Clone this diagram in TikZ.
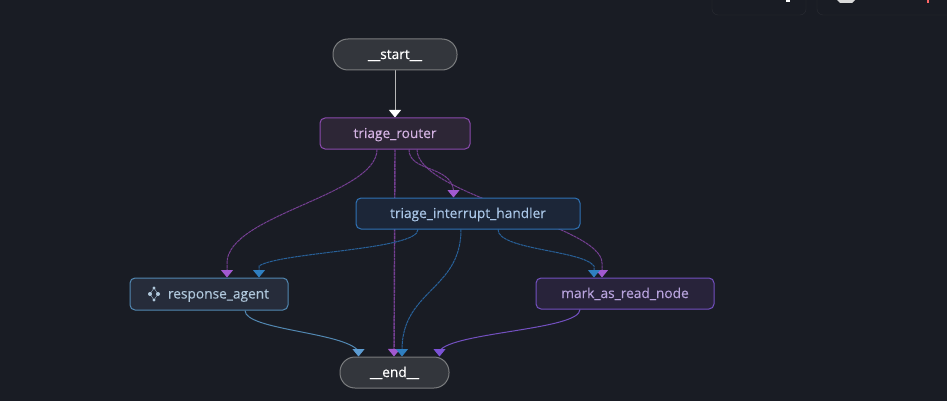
\documentclass[tikz,border=0pt]{standalone}
\usepackage{fontspec}
\setmainfont{Open Sans}[FakeBold=0.12]
\usetikzlibrary{arrows.meta}
\pgfdeclarelayer{backdrop}
\pgfdeclarelayer{edges}
\pgfsetlayers{backdrop,edges,main}

\definecolor{pagebg}{HTML}{191C24}
\definecolor{capfill}{HTML}{33363C}
\definecolor{capline}{HTML}{7A7C7E}
\definecolor{routerfill}{HTML}{2D2636}
\definecolor{routerline}{HTML}{8A4AAD}
\definecolor{routertext}{HTML}{D4B3E3}
\definecolor{routertip}{HTML}{A259D0}
\definecolor{handlerfill}{HTML}{1C2638}
\definecolor{handlerline}{HTML}{2F72B5}
\definecolor{handlertext}{HTML}{A9C5E6}
\definecolor{handlertip}{HTML}{2F7FC1}
\definecolor{agentfill}{HTML}{262C3A}
\definecolor{agentline}{HTML}{5288B2}
\definecolor{agenttext}{HTML}{B0C8DC}
\definecolor{agenttip}{HTML}{5C9BD1}
\definecolor{markfill}{HTML}{28233A}
\definecolor{markline}{HTML}{7350C0}
\definecolor{marktext}{HTML}{B8A3DD}
\definecolor{marktip}{HTML}{7B52D6}
\definecolor{panelline}{HTML}{2A2C33}

\begin{document}
\begin{tikzpicture}[x=1pt,y=-1pt,font=\fontsize{13.7}{15}\selectfont,
			main node/.style={rectangle,draw,line width=1pt,rounded corners=5pt,minimum height=31pt,inner sep=0pt,text height=9pt,text depth=0pt},
			cap node/.style={main node,fill=capfill,draw=capline,text=white,rounded corners=15pt,font=\fontsize{13.7}{15}\selectfont\addfontfeature{FakeBold=0.6}},
			router node/.style={main node,fill=routerfill,draw=routerline,text=routertext},
			handler node/.style={main node,fill=handlerfill,draw=handlerline,text=handlertext},
			agent node/.style={main node,fill=agentfill,draw=agentline,text=agenttext},
			mark node/.style={main node,fill=markfill,draw=markline,text=marktext},
			base edge/.style={line width=1pt},
			fine/.style={base edge,dash pattern=on 3pt off 0.6pt},
			tip/.style={-{Triangle[width=12pt,length=7.5pt,color=#1]}},
			start edge/.style={base edge,draw=white!72!black,tip=white},
			router edge/.style={fine,draw=routerline!85!black,tip=routertip},
			handler edge/.style={fine,draw=handlerline!85!black,tip=handlertip},
			agent edge/.style={base edge,draw=agentline,tip=agenttip},
			mark edge/.style={base edge,draw=markline,tip=marktip}]
			\useasboundingbox (0,0) rectangle (947,401);
			\clip (0,0) rectangle (947,401);
			\begin{pgfonlayer}{backdrop}
			\fill[pagebg] (0,0) rectangle (947,401);
			% panel corners at the top
			\draw[panelline,rounded corners=6pt] (712,-10) rectangle (806,15);
			\draw[panelline,rounded corners=6pt] (817,-10) rectangle (960,15);
			\fill[white] (786,0) rectangle (790,2.5);
			\fill[white!85!black] (837,0) -- (855,0) -- (852,3) -- (840,3) -- cycle;
			\fill[red!60!white] (927,0) rectangle (928.5,3);
			\end{pgfonlayer}

			\node[cap node,minimum width=124pt] (start) at (395,54.5) {\_\_start\_\_};
			\node[router node,minimum width=150pt] (router) at (395,133.5) {triage\_router};
			\node[handler node,minimum width=224pt] (handler) at (468,213.5) {triage\_interrupt\_handler};
			\node[agent node,minimum width=158pt,minimum height=32pt] (agent) at (209,294) {\hspace*{19pt}response\_agent};
			\node[mark node,minimum width=178pt] (mark) at (625,293.5) {mark\_as\_read\_node};
			\node[cap node,minimum width=109pt] (end) at (394.5,372.5) {\_\_end\_\_};

			% little graph icon
			\draw[agenttext,line width=0.4pt] (154,288) -- (150,294) -- (154,300) -- (158,294) -- cycle;
			\fill[agenttext] (154,288) circle (1.7pt) (150,294) circle (2pt) (158,294) circle (2pt) (154,300) circle (1.7pt);

			\begin{pgfonlayer}{edges}
			\draw[start edge] (start.south) -- (router.north);
			\draw[router edge] ([xshift=-18pt]router.south) .. controls (377,195) and (227,215) .. (227,263) -- ([xshift=18pt]agent.north);
			\draw[router edge,line width=1.4pt] (router.south) -- ([xshift=-0.5pt]end.north);
			\draw[router edge] ([xshift=14pt]router.south) .. controls (409,172) and (450,165) .. (453.5,190) -- ([xshift=-14.5pt]handler.north);
			\draw[router edge] ([xshift=22pt]router.south) .. controls (417,195) and (602,225) .. (602,263) -- ([xshift=-23pt]mark.north);
			\draw[handler edge] ([xshift=-50pt]handler.south) .. controls (418,250) and (280,252) .. (259,266) -- ([xshift=50pt]agent.north);
			\draw[handler edge] ([xshift=-7pt]handler.south) .. controls (461,290) and (402,290) .. (402,350) -- ([xshift=7.5pt]end.north);
			\draw[handler edge] ([xshift=30pt]handler.south) .. controls (498,250) and (582,250) .. (594,266) -- ([xshift=-31pt]mark.north);
			\draw[agent edge] ([xshift=36pt]agent.south) .. controls (245,330) and (344,332) .. (358.5,351) -- ([xshift=-36pt]end.north);
			\draw[mark edge] ([xshift=-45pt]mark.south) .. controls (580,330) and (452,332) .. (439.5,351) -- ([xshift=45pt]end.north);
			\end{pgfonlayer}
			\end{tikzpicture}
\end{document}
